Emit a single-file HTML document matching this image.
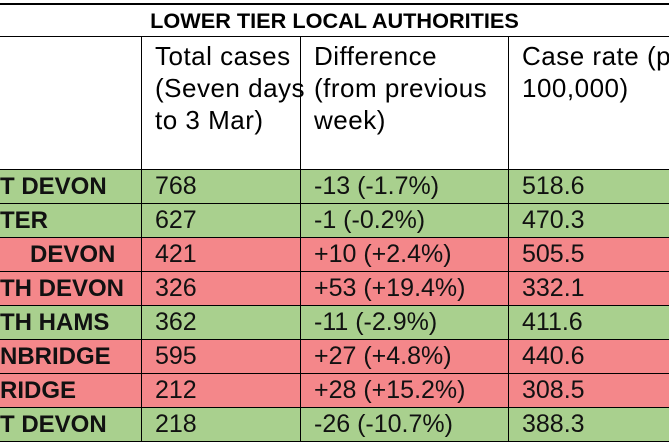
<!DOCTYPE html>
<html><head><meta charset="utf-8"><style>
body{margin:0;width:669px;height:445px;overflow:hidden;background:#fff;font-family:"Liberation Sans",sans-serif;position:relative}
.a{position:absolute}
.h{position:absolute;background:#000}
.row{position:absolute;left:0;width:669px;height:34px}
.t{position:absolute;font-size:25px;color:#111;line-height:33px;white-space:nowrap}
.b{font-weight:bold;font-size:24px}
.hd{position:absolute;top:40px;font-size:26px;line-height:32px;white-space:nowrap;letter-spacing:0.5px}
</style></head><body>
<div class="h" style="left:0;top:3px;width:669px;height:2px"></div>
<div class="a" style="left:0;width:669px;top:5px;text-align:center;font-size:21.7px;font-weight:bold;line-height:31px">LOWER TIER LOCAL AUTHORITIES</div>
<div class="h" style="left:0;top:36px;width:669px;height:1px"></div>
<div class="hd" style="left:155px">Total cases<br>(Seven days<br>to 3 Mar)</div>
<div class="hd" style="left:314px">Difference<br>(from previous<br>week)</div>
<div class="hd" style="left:522px">Case rate (per<br>100,000)</div>
<div id="rows"></div>
<div class="h" style="left:141px;top:37px;width:1px;height:404px"></div>
<div class="h" style="left:300px;top:37px;width:1px;height:404px"></div>
<div class="h" style="left:508px;top:37px;width:1px;height:404px"></div>
<script>
const names=["T DEVON","TER","DEVON","TH DEVON","TH HAMS","NBRIDGE","RIDGE","T DEVON"];
const nameOffsets=[0,0,30,0,0,0,0,0];
const totals=["768","627","421","326","362","595","212","218"];
const diffs=["-13 (-1.7%)","-1 (-0.2%)","+10 (+2.4%)","+53 (+19.4%)","-11 (-2.9%)","+27 (+4.8%)","+28 (+15.2%)","-26 (-10.7%)"];
const rates=["518.6","470.3","505.5","332.1","411.6","440.6","308.5","388.3"];
const rowsEl=document.getElementById('rows');
for(let i=0;i<names.length;i++){
  const up=diffs[i].startsWith('+');
  const r=document.createElement('div');
  r.className='row';
  
  
  r.style.top=(169+i*34)+'px';
  r.style.background=up?'#f4878a':'#a9d08e';
  r.style.borderTop='1px solid #000';
  r.style.boxSizing='border-box';
  r.innerHTML='<span class="t b" style="left:'+(0+nameOffsets[i])+'px">'+names[i]+'</span><span class="t" style="left:155px">'+totals[i]+'</span><span class="t" style="left:314px">'+diffs[i]+'</span><span class="t" style="left:522px">'+rates[i]+'</span>';
  rowsEl.appendChild(r);
}
</script>
<div class="h" style="left:0;top:441px;width:669px;height:1px"></div>
</body></html>
